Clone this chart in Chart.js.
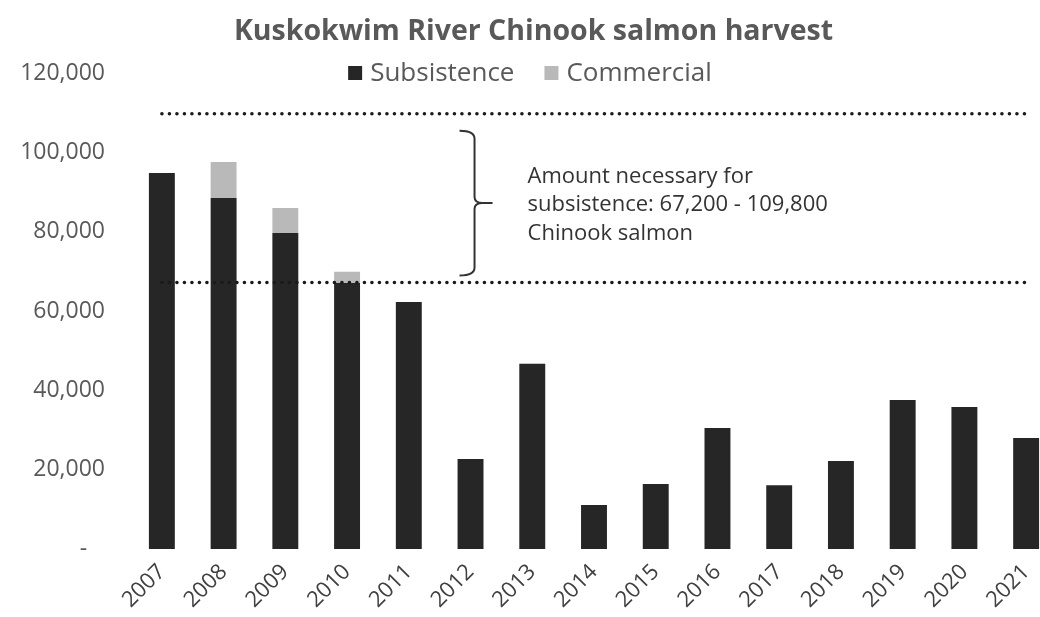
<!DOCTYPE html>
<html>
<head>
<meta charset="utf-8">
<script src="https://cdn.jsdelivr.net/npm/chart.js@4"></script>
<style>
  html, body { margin: 0; padding: 0; background: #fff; overflow: hidden; }
  #wrap { width: 1060px; height: 617px; }
</style>
</head>
<body>
<div id="wrap"><canvas id="harvestChart"></canvas></div>
<script>
// data
const years = ['2007', '2008', '2009', '2010', '2011', '2012', '2013', '2014',
               '2015', '2016', '2017', '2018', '2019', '2020', '2021'];
const subsistence = [94800, 88500, 79700, 67100, 62300, 22700, 46700, 11100,
                     16400, 30500, 16100, 22200, 37600, 35800, 28000];
const commercial = [0, 9100, 6300, 2800, 0, 0, 0, 0, 0, 0, 0, 0, 0, 0, 0];
const needLow = 67200;
const needHigh = 109800;
const noteLines = ['Amount necessary for', 'subsistence: 67,200 - 109,800', 'Chinook salmon'];

const FONT = "'Open Sans', 'Noto Sans', sans-serif";

// legend drawn on top of the plot (the original has it level with the 120,000 tick)
const topLegend = {
    id: 'topLegend',
    afterDraw(chart) {
        const ctx = chart.ctx;
        const items = chart.data.datasets.filter(d => d.type !== 'line');
        ctx.save();
        ctx.font = '26px ' + FONT;
        ctx.textBaseline = 'middle';
        const box = 14, gap = 8, sep = 30;
        let total = 0;
        items.forEach((d, i) => {
            total += box + gap + ctx.measureText(d.label).width + (i ? sep : 0);
        });
        let x = 530 - total / 2;
        const y = 73;
        items.forEach((d, i) => {
            if (i) x += sep;
            ctx.fillStyle = d.backgroundColor;
            ctx.fillRect(x, y - box / 2, box, box);
            x += box + gap;
            ctx.fillStyle = '#595959';
            ctx.fillText(d.label, x, y + 1);
            x += ctx.measureText(d.label).width;
        });
        ctx.restore();
    }
};

// bracket + note between the two dotted lines
const needNote = {
    id: 'needNote',
    afterDatasetsDraw(chart) {
        const ctx = chart.ctx;
        const xs = chart.scales.x, ys = chart.scales.y;
        const bx = xs.getPixelForValue(5) + 4;
        const top = ys.getPixelForValue(105500);
        const bot = ys.getPixelForValue(69000);
        const mid = (top + bot) / 2;
        ctx.save();
        ctx.strokeStyle = '#333';
        ctx.lineWidth = 2;
        ctx.beginPath();
        ctx.moveTo(bx - 15, top);
        ctx.quadraticCurveTo(bx, top, bx, top + 8);
        ctx.lineTo(bx, mid - 6);
        ctx.quadraticCurveTo(bx, mid, bx + 8, mid);
        ctx.lineTo(bx + 18, mid);
        ctx.moveTo(bx + 8, mid);
        ctx.quadraticCurveTo(bx, mid, bx, mid + 6);
        ctx.lineTo(bx, bot - 8);
        ctx.quadraticCurveTo(bx, bot, bx - 15, bot);
        ctx.stroke();

        ctx.fillStyle = '#333';
        ctx.font = '22px ' + FONT;
        ctx.textBaseline = 'middle';
        noteLines.forEach((t, i) => {
            ctx.fillText(t, bx + 53, mid + 2 - 28.5 + i * 28.5);
        });
        ctx.restore();
    }
};

const ctx = document.getElementById('harvestChart');
new Chart(ctx, {
    type: 'bar',
    data: {
        labels: years,
        datasets: [{
            label: 'Subsistence',
            data: subsistence,
            backgroundColor: '#262626',
            order: 1
        }, {
            label: 'Commercial',
            data: commercial,
            backgroundColor: '#b9b9b9',
            order: 1
        }, {
            type: 'line',
            label: 'high',
            data: years.map(() => needHigh),
            stack: 'high',
            borderColor: '#1a1a1a',
            borderWidth: 3.5,
            borderDash: [0.1, 7.4],
            borderCapStyle: 'round',
            pointRadius: 0,
            fill: false,
            order: 0
        }, {
            type: 'line',
            label: 'low',
            data: years.map(() => needLow),
            stack: 'low',
            borderColor: '#1a1a1a',
            borderWidth: 3.5,
            borderDash: [0.1, 7.4],
            borderCapStyle: 'round',
            pointRadius: 0,
            fill: false,
            order: 0
        }]
    },
    options: {
        responsive: true,
        maintainAspectRatio: false,
        animation: false,
        layout: { padding: { left: 10, right: 3, top: 0, bottom: 0 } },
        datasets: {
            bar: { categoryPercentage: 1, barPercentage: 0.42 }
        },
        plugins: {
            legend: { display: false },
            tooltip: { enabled: false },
            title: {
                display: true,
                text: 'Kuskokwim River Chinook salmon harvest',
                color: '#595959',
                font: { family: FONT, size: 28.5, weight: 'bold' },
                padding: { top: 15, bottom: 24 }
            }
        },
        scales: {
            x: {
                stacked: true,
                grid: { display: false, drawTicks: false },
                border: { display: false },
                ticks: {
                    color: '#404040',
                    font: { family: FONT, size: 22 },
                    minRotation: 45,
                    maxRotation: 45,
                    padding: 10
                },
                afterFit(scale) { scale.height = 68; }
            },
            y: {
                stacked: true,
                min: 0,
                max: 120000,
                grid: { display: false, drawTicks: false },
                border: { display: false },
                ticks: {
                    stepSize: 20000,
                    color: '#595959',
                    font: { family: FONT, size: 23 },
                    padding: 26,
                    callback: v => v === 0 ? '-   ' : v.toLocaleString('en-US')
                },
                afterFit(scale) { scale.width = 121; }
            }
        }
    },
    plugins: [topLegend, needNote]
});
</script>
</body>
</html>
